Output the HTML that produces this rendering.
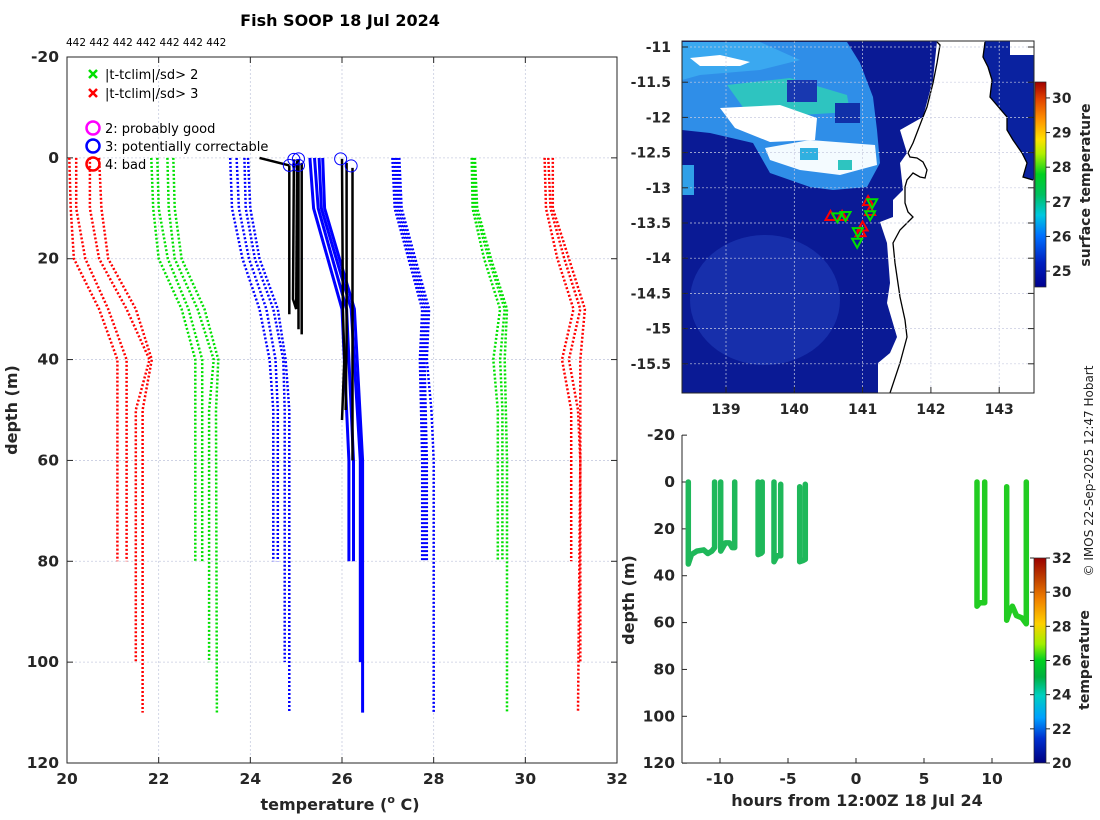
<!DOCTYPE html>
<html><head><meta charset="utf-8">
<style>
body{margin:0;background:#fff;}
svg{display:block;font-family:"DejaVu Sans","Liberation Sans",sans-serif;}
.tk{font-size:15.5px;font-weight:bold;fill:#262626;}
.tk2{font-size:14px;font-weight:bold;fill:#262626;}
</style></head>
<body>
<svg id="svg" width="1100" height="820" viewBox="0 0 1100 820" xmlns="http://www.w3.org/2000/svg">
<defs>
<linearGradient id="jet" x1="0" y1="1" x2="0" y2="0">
<stop offset="0" stop-color="#00008f"/><stop offset="0.12" stop-color="#0020c0"/>
<stop offset="0.25" stop-color="#0070ff"/><stop offset="0.35" stop-color="#00c8e0"/>
<stop offset="0.45" stop-color="#00c060"/><stop offset="0.55" stop-color="#00d020"/>
<stop offset="0.65" stop-color="#b0f000"/><stop offset="0.72" stop-color="#ffe000"/>
<stop offset="0.82" stop-color="#ff9000"/><stop offset="0.92" stop-color="#e04000"/>
<stop offset="1" stop-color="#a00000"/></linearGradient>
<linearGradient id="jet2" x1="0" y1="1" x2="0" y2="0">
<stop offset="0" stop-color="#00007f"/><stop offset="0.12" stop-color="#0030d0"/>
<stop offset="0.22" stop-color="#00a0ff"/><stop offset="0.33" stop-color="#00d0c0"/>
<stop offset="0.42" stop-color="#00b040"/><stop offset="0.5" stop-color="#00d020"/>
<stop offset="0.58" stop-color="#a0f000"/><stop offset="0.68" stop-color="#ffd000"/>
<stop offset="0.8" stop-color="#f08000"/><stop offset="0.9" stop-color="#c04000"/>
<stop offset="1" stop-color="#9a0000"/></linearGradient>
<clipPath id="mapclip"><rect x="682" y="41" width="352" height="352"/></clipPath>
<clipPath id="leftclip"><rect x="67" y="57" width="550" height="706"/></clipPath>
</defs>

<text x="340" y="26" text-anchor="middle" font-size="16" font-weight="bold" fill="#000">Fish SOOP 18 Jul 2024</text>
<text x="66" y="46" font-size="10.5" fill="#000">442 442 442 442 442 442 442</text>

<g id="left"></g>
<g id="map"></g>
<g id="bot"></g>

<text transform="translate(1093,471) rotate(-90)" text-anchor="middle" font-size="12" fill="#222">© IMOS 22-Sep-2025 12:47 Hobart</text>
</svg>
<script>
// ---------- Left plot data ----------
const climDepths = [0,10,20,30,40,50,60];
const redProfiles = [
 [[0,20.05],[10,20.08],[20,20.15],[30,20.7],[40,21.1],[80,21.1]],
 [[0,20.2],[10,20.2],[20,20.4],[30,20.9],[40,21.3],[80,21.3]],
 [[0,20.5],[10,20.5],[20,20.7],[30,21.3],[40,21.8],[50,21.5],[100,21.5]],
 [[0,20.7],[10,20.75],[20,20.9],[30,21.5],[40,21.85],[50,21.65],[110,21.65]],
 [[0,30.42],[10,30.45],[20,30.7],[30,31.05],[40,30.8],[50,31.0],[80,31.0]],
 [[0,30.5],[10,30.55],[20,30.85],[30,31.2],[40,30.95],[50,31.15],[60,31.2],[100,31.2]],
 [[0,30.6],[10,30.6],[20,30.95],[30,31.3],[40,31.2],[60,31.2],[110,31.15]]
];
const greenProfiles = [
 [[0,21.84],[10,21.88],[20,22.0],[30,22.5],[40,22.8],[80,22.8]],
 [[0,21.97],[10,22.0],[20,22.2],[30,22.65],[40,22.95],[80,22.95]],
 [[0,22.19],[10,22.22],[20,22.35],[30,22.85],[40,23.2],[50,23.1],[100,23.1]],
 [[0,22.32],[10,22.35],[20,22.5],[30,23.0],[40,23.3],[50,23.25],[110,23.27]],
 [[0,28.83],[10,28.85],[20,29.1],[30,29.45],[40,29.3],[50,29.4],[80,29.4]],
 [[0,28.87],[10,28.9],[20,29.2],[30,29.55],[40,29.45],[50,29.5],[80,29.5]],
 [[0,28.9],[10,28.95],[20,29.25],[30,29.6],[40,29.55],[60,29.6],[110,29.6]]
];
const blueDotProfiles = [
 [[0,23.56],[10,23.6],[20,23.83],[30,24.2],[40,24.42],[50,24.5],[80,24.5]],
 [[0,23.7],[10,23.75],[20,23.97],[30,24.35],[40,24.55],[50,24.6],[80,24.6]],
 [[0,23.87],[10,23.9],[20,24.1],[30,24.5],[40,24.72],[50,24.75],[100,24.75]],
 [[0,23.95],[10,24.0],[20,24.2],[30,24.6],[40,24.77],[50,24.85],[110,24.85]],
 [[0,27.1],[10,27.15],[20,27.45],[30,27.75],[40,27.7],[60,27.75],[80,27.75]],
 [[0,27.15],[10,27.2],[20,27.5],[30,27.8],[40,27.75],[60,27.8],[80,27.8]],
 [[0,27.2],[10,27.25],[20,27.55],[30,27.85],[40,27.8],[60,27.85],[80,27.85]],
 [[0,27.25],[10,27.3],[20,27.6],[30,27.9],[40,27.85],[50,27.95],[60,28.0],[110,28.0]]
];
const blueSolidProfiles = [
 [[0,25.3],[10,25.38],[30,26.0],[60,26.15],[80,26.15]],
 [[0,25.4],[10,25.48],[30,26.1],[60,26.25],[80,26.25]],
 [[0,25.5],[10,25.55],[30,26.2],[60,26.4],[100,26.4]],
 [[0,25.58],[10,25.62],[30,26.27],[60,26.45],[110,26.45]]
];
const blackProfiles = [
 [[1.5,24.85],[31,24.85]],
 [[0.3,24.95],[28,24.93],[30,25.0]],
 [[0.5,25.02],[30,25.0]],
 [[0.3,25.05],[34,25.05]],
 [[1,25.12],[35,25.12]],
 [[0.2,26.0],[30,26.02],[40,26.05],[52,26.0]],
 [[1,26.1],[35,26.1],[50,26.08]],
 [[2,26.23],[60,26.23]],
 [[0,24.2],[1.5,24.85]]
];
const flagCircles = [[24.85,1.5],[24.95,0.3],[25.05,0.2],[25.05,1.5],[25.97,0.2],[26.2,1.6]];
const xTicksLeft = [20,22,24,26,28,30,32];
const yTicksLeft = [-20,0,20,40,60,80,100,120];

// ---------- Map data ----------
const lonTicks = [139,140,141,142,143];
const latTicks = [-11,-11.5,-12,-12.5,-13,-13.5,-14,-14.5,-15,-15.5];
const sstTicks = [25,26,27,28,29,30];
const upTriangles = [[140.53,-13.40],[140.70,-13.40],[141.08,-13.19],[141.11,-13.33],[141.0,-13.55],[140.97,-13.63]];
const downTriangles = [[140.63,-13.42],[140.75,-13.40],[141.14,-13.22],[141.11,-13.39],[140.93,-13.63],[140.92,-13.78]];

// ---------- Bottom plot data ----------
const hourTicks = [-10,-5,0,5,10];
const depthTicks = [-20,0,20,40,60,80,100,120];
const tempTicks = [20,22,24,26,28,30,32];
const tracksA = [
 [[-12.33,0],[-12.33,35],[-12.1,31],[-11.7,29.5],[-11.2,29],[-10.9,30.5],[-10.6,29.5],[-10.4,28],[-10.4,0]],
 [[-9.95,0],[-9.95,29.5],[-9.6,26],[-9.3,26],[-9.1,28],[-8.92,28],[-8.92,0]],
 [[-7.2,0],[-7.2,31],[-7.0,30.5],[-6.9,30],[-6.9,0]],
 [[-6.03,0],[-6.03,34],[-5.8,31.5],[-5.54,31.5],[-5.54,1]],
 [[-4.14,2],[-4.14,34],[-3.9,33.5],[-3.73,33],[-3.73,1]]
];
const tracksB = [
 [[8.9,0],[8.9,53],[9.1,51.5],[9.46,51.5],[9.46,0]],
 [[11.08,2],[11.08,59],[11.3,55],[11.5,53],[11.8,57],[12.2,58],[12.52,60.5],[12.52,0]]
];

const NS='http://www.w3.org/2000/svg';
function mk(tag, attrs, parent){const e=document.createElementNS(NS,tag);for(const k in attrs)e.setAttribute(k,attrs[k]);parent.appendChild(e);return e;}

// ===== Left plot =====
const L=document.getElementById('left');
const X=t=>67+(t-20)*550/12, Y=d=>57+(d+20)*706/140;
xTicksLeft.forEach(t=>{
  if(t>20&&t<32){const g=mk('line',{x1:X(t),x2:X(t),y1:57,y2:763,stroke:'#c8cce0','stroke-width':0.8,'stroke-dasharray':'2 2'},L);
  
  }
  const tl=mk('text',{x:X(t),y:784,'text-anchor':'middle',class:'tk'},L);tl.textContent=t;
  
  
  mk('line',{x1:X(t),x2:X(t),y1:763,y2:757,stroke:'#262626'},L);
  mk('line',{x1:X(t),x2:X(t),y1:57,y2:63,stroke:'#262626'},L);
});
yTicksLeft.forEach(d=>{
  if(d>-20&&d<120){const g=mk('line',{x1:67,x2:617,y1:Y(d),y2:Y(d),stroke:'#c8cce0','stroke-width':0.8,'stroke-dasharray':'2 2'},L);
  
  }
  const tl=mk('text',{x:59,y:Y(d)+5,'text-anchor':'end',class:'tk'},L);tl.textContent=d;
  
  
  mk('line',{x1:67,x2:73,y1:Y(d),y2:Y(d),stroke:'#262626'},L);
  mk('line',{x1:611,x2:617,y1:Y(d),y2:Y(d),stroke:'#262626'},L);
});
const PL=mk('g',{'clip-path':'url(#leftclip)'},L);
function prof(arr,color,w,dash,name){
  arr.forEach(p=>{
    const pts=p.map(q=>X(q[1]).toFixed(1)+','+Y(q[0]).toFixed(1)).join(' ');
    const a={points:pts,fill:'none',stroke:color,'stroke-width':w,'stroke-linejoin':'round'};
    if(dash)a['stroke-dasharray']=dash;
    const e=mk('polyline',a,PL);
    
    
  });
}
prof(redProfiles,'#ff0000',2.5,'2 2','clim-red-line');
prof(greenProfiles,'#00e000',2.5,'2 2','clim-green-line');
prof(blueDotProfiles,'#0000ff',2.5,'2 2','clim-blue-line');
prof(blueSolidProfiles,'#0000ff',3,null,'clim-mean-line');
prof(blackProfiles,'#000',2.5,null,'data-profile');
flagCircles.forEach(c=>{
  const e=mk('circle',{cx:X(c[0]),cy:Y(c[1]),r:6,fill:'none',stroke:'#0000ff','stroke-width':1},PL);
  
  
});
mk('rect',{x:67,y:57,width:550,height:706,fill:'none',stroke:'#262626','stroke-width':1},L);
// legend
const LG=mk('g',{},L);


[['#00e000',74,'|t-tclim|/sd> 2'],['#ff0000',93,'|t-tclim|/sd> 3']].forEach(r=>{
  mk('path',{d:`M89 ${r[1]-4}l8 8M97 ${r[1]-4}l-8 8`,stroke:r[0],'stroke-width':2.5},LG);
  const t=mk('text',{x:105,y:r[1]+5,'font-size':13,fill:'#000'},LG);t.textContent=r[2];
  
  
});
[['#ff00ff',128,'2: probably good'],['#0000ff',146,'3: potentially correctable'],['#ff0000',164,'4: bad']].forEach(r=>{
  mk('circle',{cx:93,cy:r[1],r:6.5,fill:'none',stroke:r[0],'stroke-width':2.5},LG);
  const t=mk('text',{x:105,y:r[1]+5,'font-size':13,fill:'#000'},LG);t.textContent=r[2];
  
  
});
mk('text',{x:340,y:810,'text-anchor':'middle','font-size':16,'font-weight':'bold',fill:'#262626'},L).innerHTML='temperature (<tspan font-size="11" dy="-7">o</tspan><tspan dy="7"> C)</tspan>';
const yl=mk('text',{transform:'translate(17,410) rotate(-90)','text-anchor':'middle','font-size':16,'font-weight':'bold',fill:'#262626'},L);yl.textContent='depth (m)';



// ===== Map =====
const M=document.getElementById('map');
const LX=lon=>726+(lon-139)*68.3, LY=lat=>47+(-11-lat)*70.4;
const MC=mk('g',{'clip-path':'url(#mapclip)'},M);
mk('rect',{x:682,y:41,width:352,height:352,fill:'#ffffff'},MC);
const dataPoly='682,41 937,41 933,80 923,117 900,130 907,153 900,163 903,190 893,200 893,217 880,222 887,243 890,283 887,303 897,337 890,353 878,363 878,393 682,393';
mk('polygon',{points:dataPoly,fill:'#0a1a95'},MC);
mk('ellipse',{cx:765,cy:300,rx:75,ry:65,fill:'#1a35b0',opacity:0.8},MC);
mk('polygon',{points:'682,42 847,42 860,63 873,97 877,130 880,163 867,187 833,190 810,187 770,173 753,143 710,133 682,130',fill:'#2f8ee8'},MC);
mk('polygon',{points:'682,42 760,42 800,60 760,70 700,75 682,80',fill:'#3aa8f0'},MC);
mk('polygon',{points:'727,85 790,78 847,95 850,112 800,115 745,110',fill:'#2ec4c0'},MC);
mk('rect',{x:787,y:80,width:30,height:22,fill:'#1838b0'},MC);
mk('rect',{x:835,y:103,width:25,height:20,fill:'#1030a8'},MC);
mk('rect',{x:682,y:165,width:12,height:30,fill:'#30a0e8'},MC);
mk('polygon',{points:'720,108 780,105 817,118 815,140 770,142 735,128',fill:'#ffffff'},MC);
mk('polygon',{points:'765,148 810,140 875,145 877,165 840,175 800,170 770,160',fill:'#f4fbff'},MC);
mk('rect',{x:800,y:148,width:18,height:12,fill:'#30b0e0'},MC);
mk('rect',{x:838,y:160,width:14,height:10,fill:'#2ec4c0'},MC);
mk('polygon',{points:'690,58 720,55 750,62 740,66 700,66',fill:'#ffffff'},MC);
// right-hand ocean
mk('polygon',{points:'985,41 1034,41 1034,180 1023,177 1027,163 1022,153 1013,140 1007,130 1007,117 990,97 992,80 988,67 983,57',fill:'#0a22a0'},MC);
mk('rect',{x:1010,y:41,width:24,height:14,fill:'#ffffff'},MC);
// coast lines
mk('polyline',{points:'937,42 940,45 937,63 933,83 927,107 923,117 918,130 913,143 908,153 910,157 917,158 923,162 927,170 925,178 920,177 913,173 907,180 905,187 905,203 908,212 913,217 910,220 900,230 893,243 895,263 900,297 905,320 907,337 900,363 890,393',fill:'none',stroke:'#000','stroke-width':1.3},MC);
mk('polyline',{points:'985,42 983,57 988,67 992,80 990,97 1007,117 1007,130 1013,140 1022,153 1027,163 1023,177 1033,180',fill:'none',stroke:'#000','stroke-width':1.3},MC);
// grid
lonTicks.forEach(l=>{mk('line',{x1:LX(l),x2:LX(l),y1:41,y2:393,stroke:'#c8cce0','stroke-width':0.7,'stroke-dasharray':'2 2'},MC);
  mk('line',{x1:LX(l),x2:LX(l),y1:393,y2:387,stroke:'#262626'},M);
  const t=mk('text',{x:LX(l),y:414,'text-anchor':'middle',class:'tk2'},M);t.textContent=l;
  
  });
latTicks.forEach(l=>{mk('line',{x1:682,x2:1034,y1:LY(l),y2:LY(l),stroke:'#c8cce0','stroke-width':0.7,'stroke-dasharray':'2 2'},MC);
  mk('line',{x1:682,x2:688,y1:LY(l),y2:LY(l),stroke:'#262626'},M);
  mk('line',{x1:1028,x2:1034,y1:LY(l),y2:LY(l),stroke:'#262626'},M);
  const t=mk('text',{x:671,y:LY(l)+5,'text-anchor':'end',class:'tk2'},M);t.textContent=l;
  
  });
upTriangles.forEach(p=>{const x=LX(p[0]),y=LY(p[1]);
  const e=mk('polygon',{points:`${x},${y-5} ${x+5},${y+4} ${x-5},${y+4}`,fill:'none',stroke:'#ff0000','stroke-width':2},MC);
  
  });
downTriangles.forEach(p=>{const x=LX(p[0]),y=LY(p[1]);
  const e=mk('polygon',{points:`${x},${y+5} ${x+5},${y-4} ${x-5},${y-4}`,fill:'none',stroke:'#00e000','stroke-width':2},MC);
  
  });
mk('rect',{x:682,y:41,width:352,height:352,fill:'none',stroke:'#262626'},M);
// colorbar
const CY=v=>287-(v-24.54)*(205/5.92);
const cb=mk('rect',{x:1035,y:82,width:11,height:205,fill:'url(#jet)',stroke:'#262626','stroke-width':0.7},M);


sstTicks.forEach(v=>{mk('line',{x1:1046,x2:1050,y1:CY(v),y2:CY(v),stroke:'#262626'},M);
  const t=mk('text',{x:1052,y:CY(v)+5,class:'tk2','font-size':13},M);t.textContent=v;
  
  });
const ct=mk('text',{transform:'translate(1090,185) rotate(-90)','text-anchor':'middle','font-size':14,'font-weight':'bold',fill:'#262626'},M);ct.textContent='surface temperature';



// ===== Bottom plot =====
const B=document.getElementById('bot');
const HX=h=>856+h*13.6, HY=d=>482+d*2.343;
mk('line',{x1:682,x2:682,y1:435,y2:763,stroke:'#262626'},B);
mk('line',{x1:682,x2:1034,y1:763,y2:763,stroke:'#262626'},B);
hourTicks.forEach(h=>{mk('line',{x1:HX(h),x2:HX(h),y1:763,y2:758,stroke:'#262626'},B);
  const t=mk('text',{x:HX(h),y:784,'text-anchor':'middle',class:'tk'},B);t.textContent=h;
  
  });
depthTicks.forEach(d=>{mk('line',{x1:682,x2:687,y1:HY(d),y2:HY(d),stroke:'#262626'},B);
  const t=mk('text',{x:675,y:HY(d)+5,'text-anchor':'end',class:'tk'},B);t.textContent=d;
  
  });
function tracks(arr,color){arr.forEach(p=>{
  const e=mk('polyline',{points:p.map(q=>HX(q[0]).toFixed(1)+','+HY(q[1]).toFixed(1)).join(' '),fill:'none',stroke:color,'stroke-width':5.5,'stroke-linecap':'round','stroke-linejoin':'round'},B);
  
  });}
tracks(tracksA,'#1fb85a');
tracks(tracksB,'#22cc22');
const TY=v=>763-(v-20)*(205/12);
const cb2=mk('rect',{x:1034,y:558,width:12,height:205,fill:'url(#jet2)',stroke:'#262626','stroke-width':0.7},B);


tempTicks.forEach(v=>{mk('line',{x1:1046,x2:1050,y1:TY(v),y2:TY(v),stroke:'#262626'},B);
  mk('line',{x1:1030,x2:1034,y1:TY(v),y2:TY(v),stroke:'#262626'},B);
  const t=mk('text',{x:1052,y:TY(v)+5,class:'tk2','font-size':13},B);t.textContent=v;
  
  });
const bt=mk('text',{transform:'translate(1089,660) rotate(-90)','text-anchor':'middle','font-size':14,'font-weight':'bold',fill:'#262626'},B);bt.textContent='temperature';


const bx=mk('text',{x:857,y:806,'text-anchor':'middle','font-size':16,'font-weight':'bold',fill:'#262626'},B);bx.textContent='hours from 12:00Z 18 Jul 24';


const by=mk('text',{transform:'translate(634,600) rotate(-90)','text-anchor':'middle','font-size':16,'font-weight':'bold',fill:'#262626'},B);by.textContent='depth (m)';


</script>
</body></html>
